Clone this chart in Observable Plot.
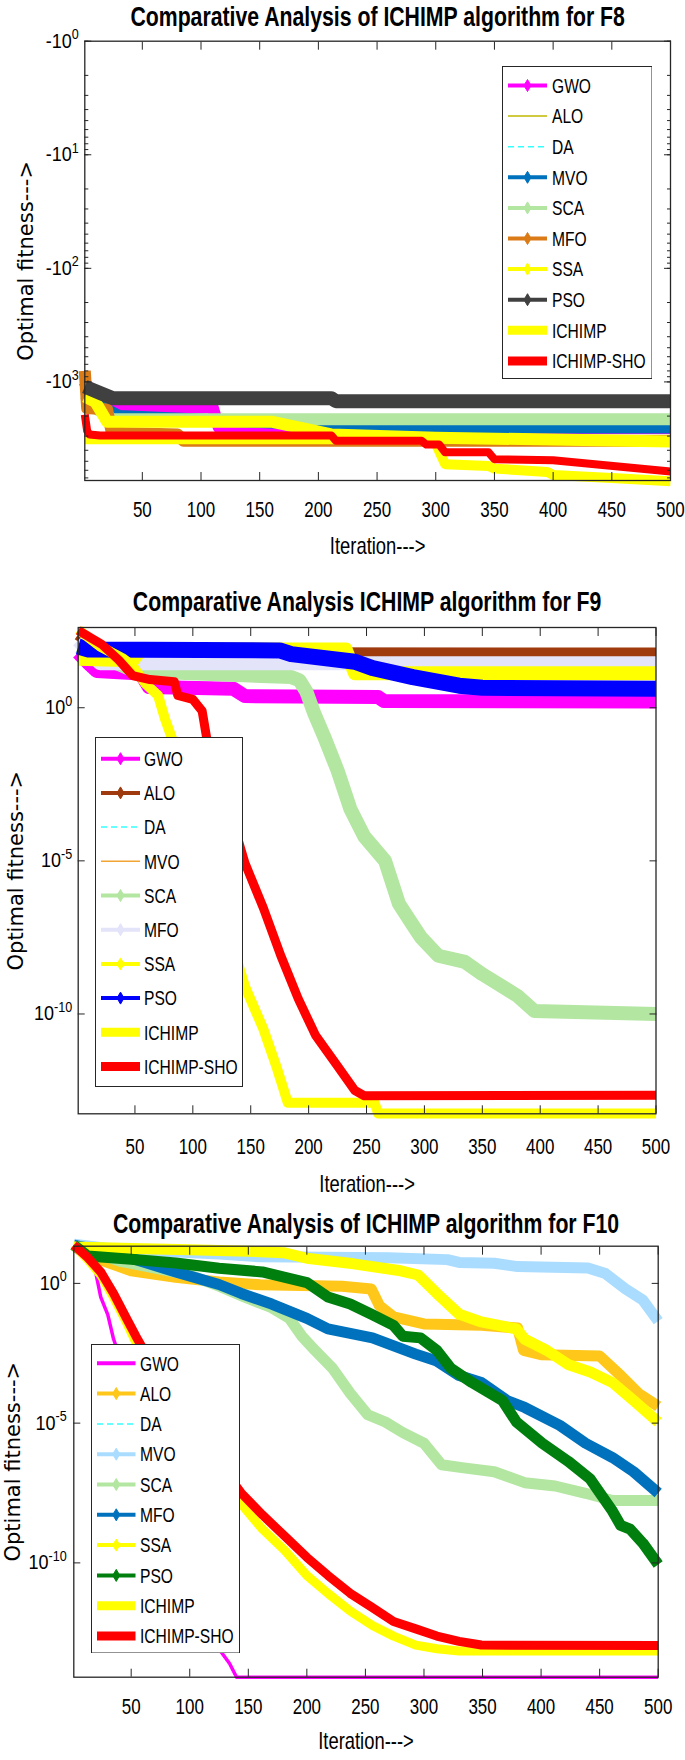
<!DOCTYPE html>
<html><head><meta charset="utf-8">
<script src="https://cdn.jsdelivr.net/npm/d3@7"></script>
<script src="https://cdn.jsdelivr.net/npm/@observablehq/plot@0.6"></script>
<style>
body{margin:0;background:#fff;}
#wrap{position:relative;width:685px;height:1760px;overflow:hidden;background:#fff;}
#wrap > svg{position:absolute;left:0;}
</style></head><body><div id="wrap"></div>
<script>
// ---------- shared ----------
const seriesNames = ["GWO","ALO","DA","MVO","SCA","MFO","SSA","PSO","ICHIMP","ICHIMP-SHO"];
const iterTicks = [50,100,150,200,250,300,350,400,450,500];
const xLabel = "Iteration--->";
const yLabel = "Optimal fitness--->";

// ---------- F8 : [iteration, fitness] (negative values, log magnitude axis) ----------
const f8Title = "Comparative Analysis of ICHIMP algorithm for F8";
const f8YTicks = [-1,-10,-100,-1000];
const f8_GWO  = [[1,-1000],[10,-1400],[25,-1680],[110,-1680],[115,-2500],[215,-2550],[220,-2540],[500,-2540]];
const f8_ALO  = [[1,-1350],[20,-2240],[160,-2240],[211,-2900],[500,-3300]];
const f8_DA   = [[1,-1350],[20,-2240],[160,-2240],[211,-2900],[500,-3300]];
const f8_MVO  = [[1,-1000],[8,-1500],[30,-2000],[210,-2400],[215,-2520],[500,-2520]];
const f8_SCA  = [[1,-1300],[10,-1700],[25,-2130],[500,-2130]];
const f8_MFO  = [[1,-800],[3,-1700],[20,-1750],[24,-2800],[80,-2900],[85,-3300],[500,-3300]];
const f8_SSA  = [[1,-1350],[10,-1500],[20,-2240],[160,-2240],[211,-2900],[300,-3100],[500,-3340]];
const f8_PSO  = [[1,-1100],[14,-1250],[25,-1390],[211,-1390],[215,-1480],[500,-1480]];
const f8_ICHIMP = [[1,-3200],[290,-3200],[300,-3500],[308,-5300],[345,-5500],[350,-5800],[395,-6200],[400,-6600],[450,-7000],[500,-7500]];
const f8_SHO  = [[1,-1940],[3,-2700],[5,-2900],[14,-2960],[211,-2960],[215,-3300],[288,-3300],[292,-3560],[303,-3560],[308,-4170],[345,-4170],[350,-4800],[400,-4900],[500,-6160]];

// ---------- F9 : [iteration, log10(fitness)] ----------
const f9Title = "Comparative Analysis ICHIMP algorithm for F9";
const f9YTicks = [1,1e-5,1e-10];
const f9_GWO  = [[1,1.8],[10,1.45],[17,1.2],[55,1.12],[62,0.68],[135,0.62],[145,0.38],[260,0.35],[265,0.22],[500,0.2]];
const f9_ALO  = [[1,2.4],[20,1.9],[56,1.78],[500,1.77]];
const f9_DA   = [[1,2.0],[55,1.85],[232,1.85],[240,1.15],[500,1.15]];
const f9_MVO  = [[1,2.2],[20,1.45],[500,1.45]];
const f9_SCA  = [[1,2.0],[50,1.2],[185,1.0],[192,0.9],[198,0.53],[205,-0.2],[214,-1.0],[225,-2.05],[236,-3.3],[248,-4.2],[266,-5.0],[278,-6.4],[290,-7.1],[297,-7.5],[312,-8.1],[335,-8.3],[350,-8.7],[380,-9.4],[395,-9.9],[500,-10.0]];
const f9_MFO  = [[1,2.2],[20,1.45],[500,1.45]];
const f9_SSA  = [[1,1.6],[48,1.55],[55,1.9],[232,1.9],[240,1.13],[500,1.13]];
const f9_PSO  = [[1,2.0],[10,1.9],[175,1.87],[185,1.75],[240,1.5],[255,1.3],[290,1.0],[330,0.72],[350,0.65],[500,0.62]];
const f9_ICHIMP = [[1,2.55],[20,2.0],[40,1.6],[48,1.37],[55,1.0],[59,0.79],[70,0.4],[76,-0.37],[82,-1.0],[100,-3.4],[120,-6.0],[145,-9.1],[161,-10.5],[172,-11.7],[182,-12.9],[257,-12.9],[260,-13.25],[500,-13.25]];
const f9_SHO  = [[1,2.53],[21,2.08],[36,1.56],[48,1.05],[63,0.92],[84,0.85],[87,0.4],[100,0.27],[108,-0.1],[112,-1.0],[125,-2.5],[145,-5.07],[161,-6.55],[176,-8.1],[191,-9.5],[206,-10.7],[225,-11.7],[240,-12.5],[248,-12.67],[500,-12.65]];

// ---------- F10 : [iteration, log10(fitness)] ----------
const f10Title = "Comparative Analysis of ICHIMP algorithm for F10";
const f10YTicks = [1,1e-5,1e-10];
const f10_GWO = [[1,1.37],[13,0.92],[19,0.54],[24,-0.49],[30,-1.12],[35,-2.0],[60,-5.0],[90,-8.5],[110,-11.0],[127,-13.2],[134,-13.6],[140,-14.09],[500,-14.09]];
const f10_ALO = [[1,1.37],[20,0.9],[50,0.45],[88,0.22],[125,0.05],[160,-0.05],[230,-0.1],[255,-0.2],[262,-0.8],[274,-1.2],[300,-1.45],[349,-1.5],[380,-1.6],[385,-2.4],[400,-2.55],[450,-2.6],[468,-3.3],[483,-3.93],[500,-4.4]];
const f10_DA  = [[1,1.4],[30,1.25],[125,1.05],[160,0.95],[270,0.92],[320,0.85],[330,0.75],[360,0.72],[380,0.6],[440,0.55],[455,0.35],[472,-0.2],[487,-0.6],[500,-1.35]];
const f10_MVO = [[1,1.4],[30,1.25],[125,1.05],[160,0.95],[270,0.92],[320,0.85],[330,0.75],[360,0.72],[380,0.6],[440,0.55],[455,0.35],[472,-0.2],[487,-0.6],[500,-1.35]];
const f10_SCA = [[1,1.37],[40,0.8],[100,0.3],[125,-0.1],[147,-0.49],[170,-0.87],[185,-1.25],[196,-1.9],[207,-2.4],[222,-3.04],[237,-3.93],[252,-4.7],[267,-4.96],[282,-5.34],[300,-5.72],[315,-6.49],[334,-6.6],[360,-6.74],[386,-7.13],[412,-7.25],[438,-7.51],[461,-7.77],[500,-7.77]];
const f10_MFO = [[1,1.37],[20,1.2],[50,0.9],[88,0.41],[125,-0.04],[144,-0.36],[170,-0.74],[200,-1.25],[218,-1.63],[256,-1.95],[293,-2.53],[311,-2.78],[330,-3.3],[349,-3.55],[371,-4.19],[386,-4.44],[416,-5.08],[438,-5.72],[461,-6.23],[479,-6.74],[500,-7.5]];
const f10_SSA = [[1,1.3],[50,1.25],[100,1.2],[150,1.15],[180,1.1],[200,0.9],[240,0.7],[280,0.45],[295,0.3],[311,-0.36],[330,-1.1],[349,-1.38],[379,-1.63],[386,-2.0],[405,-2.4],[423,-2.9],[442,-3.17],[461,-3.55],[479,-4.19],[500,-4.96]];
const f10_PSO = [[1,1.37],[13,0.98],[50,0.86],[88,0.73],[125,0.54],[162,0.41],[200,0.03],[218,-0.49],[237,-0.74],[256,-1.12],[274,-1.5],[282,-1.89],[297,-1.95],[311,-2.4],[323,-3.04],[341,-3.55],[367,-4.19],[379,-4.96],[401,-5.72],[423,-6.36],[442,-7.0],[461,-8.15],[468,-8.66],[476,-8.79],[487,-9.3],[500,-10.06]];
const f10_ICHIMP = [[1,1.37],[13,0.85],[24,0.3],[35,-0.5],[46,-1.4],[55,-2.2],[80,-4.0],[110,-6.0],[144,-7.9],[162,-8.79],[181,-9.55],[200,-10.45],[218,-11.09],[237,-11.72],[256,-12.24],[274,-12.62],[293,-12.94],[311,-13.07],[330,-13.15],[500,-13.15]];
const f10_SHO = [[1,1.37],[13,0.92],[24,0.41],[35,-0.36],[46,-1.25],[54,-1.89],[80,-3.8],[110,-5.6],[144,-7.5],[162,-8.28],[181,-9.04],[200,-9.8],[218,-10.45],[237,-11.09],[256,-11.6],[274,-12.1],[293,-12.36],[311,-12.62],[330,-12.81],[349,-12.94],[500,-12.96]];

// ---------- styling ----------
const SANS = "'Liberation Sans',Arial,Helvetica,sans-serif";
const WIDE = "'DejaVu Sans',Verdana,sans-serif";
const AX = "#262626";
function mk(color, kind, w) { return {color, kind, w}; }

const panels = [
  {
    top: 0, height: 575, mt: 40.7, mb: 95, ml: 84.3, mr: 15,
    yDomain: [-7380, -1], yTicks: f8YTicks, exp: false, minor: true,
    yFmt: v => "-10|" + Math.round(Math.log10(-v)),
    title: f8Title, titleDy: -24, xTickPad: 21, xlabelDy: 66, ylabelDx: -59, yTickPad: 6,
    data: [f8_GWO,f8_ALO,f8_DA,f8_MVO,f8_SCA,f8_MFO,f8_SSA,f8_PSO,f8_ICHIMP,f8_SHO],
    styles: [mk("#ff00ff","m",12), mk("#c0b800","t",1.5), mk("#33ffff","d",1.5), mk("#0072bd","m",12), mk("#b3e6a1","m",12),
             mk("#db7b17","m",12), mk("#ffff00","m",12), mk("#404040","m",14), mk("#ffff00","b",10), mk("#ff0000","b",8)],
    legend: {x: 501.5, y: 65.7, w: 150.5, h: 313, y0: 19.5, dy: 30.6, sx0: 6, sx1: 45, tx: 50}
  },
  {
    top: 575, height: 635, mt: 52, mb: 96.7, ml: 77.7, mr: 29.5,
    yDomain: [5.5e-14, 417], yTicks: f9YTicks, exp: true, minor: false,
    yFmt: v => "10|" + Math.round(Math.log10(v)),
    title: f9Title, titleDy: -25, xTickPad: 25, xlabelDy: 71, ylabelDx: -62, yTickPad: 6,
    data: [f9_GWO,f9_ALO,f9_DA,f9_MVO,f9_SCA,f9_MFO,f9_SSA,f9_PSO,f9_ICHIMP,f9_SHO],
    styles: [mk("#ff00ff","m",14), mk("#9e3a0d","m",12), mk("#33ffff","d",1.5), mk("#f2a533","t",1.5), mk("#b3e6a1","m",14),
             mk("#e3e3fa","m",14), mk("#ffff00","m",14), mk("#0000ff","m",16), mk("#ffff00","b",10), mk("#ff0000","b",9)],
    legend: {x: 95, y: 737, w: 148, h: 350, y0: 21.7, dy: 34.2, sx0: 6, sx1: 45, tx: 49}
  },
  {
    top: 1210, height: 550, mt: 35.7, mb: 83.3, ml: 73.3, mr: 27.3,
    yDomain: [8.13e-15, 21.4], yTicks: f10YTicks, exp: true, minor: false,
    yFmt: v => "10|" + Math.round(Math.log10(v)),
    title: f10Title, titleDy: -22, xTickPad: 21, xlabelDy: 64, ylabelDx: -61, yTickPad: 7,
    data: [f10_GWO,f10_ALO,f10_DA,f10_MVO,f10_SCA,f10_MFO,f10_SSA,f10_PSO,f10_ICHIMP,f10_SHO],
    styles: [mk("#ff00ff","p",3.5), mk("#ffc71a","m",11), mk("#33ffff","d",1.5), mk("#aadcff","m",11), mk("#b3e6a1","m",11),
             mk("#0072bd","m",11), mk("#ffff00","m",11), mk("#007f0e","m",11), mk("#ffff00","b",9), mk("#ff0000","b",9)],
    legend: {x: 91, y: 1343.5, w: 149, h: 309.5, y0: 19.3, dy: 30.3, sx0: 6, sx1: 44.5, tx: 49}
  }
];

const wrap = document.getElementById("wrap");

// horizontal condensing of a text element about its own anchor point
function squeeze(node, s) {
  const t = d3.select(node);
  const x = +t.attr("x") || 0, y = +t.attr("y") || 0;
  const tr = t.attr("transform") || "";
  t.attr("transform", `${tr} translate(${x},${y}) scale(${s},1) translate(${-x},${-y})`);
}

function drawPanel(cfg) {
  const marks = [];
  cfg.data.forEach((series, k) => {
    const s = cfg.styles[k];
    const opts = {
      x: d => d[0],
      y: d => cfg.exp ? Math.pow(10, d[1]) : d[1],
      stroke: s.color, strokeWidth: s.w, strokeLinejoin: "round", strokeLinecap: "butt"
    };
    if (s.kind === "d") opts.strokeDasharray = "6,4";
    marks.push(Plot.line(series, opts));
  });
  marks.push(Plot.frame({stroke: AX, strokeWidth: 1.3}));
  marks.push(Plot.axisX(iterTicks, {anchor: "bottom", tickSize: 0, tickPadding: cfg.xTickPad, fontSize: 22, fontFamily: SANS, label: null}));
  marks.push(Plot.axisX(iterTicks, {anchor: "bottom", tickSize: -8, tickFormat: () => "", stroke: AX, label: null}));
  marks.push(Plot.axisX(iterTicks, {anchor: "top", tickSize: -8, tickFormat: () => "", stroke: AX, label: null}));
  marks.push(Plot.axisY(cfg.yTicks, {anchor: "left", tickSize: 0, tickPadding: cfg.yTickPad, tickFormat: cfg.yFmt, fontSize: 20, fontFamily: SANS, label: null}));
  marks.push(Plot.axisY(cfg.yTicks, {anchor: "left", tickSize: -7, tickFormat: () => "", stroke: AX, label: null}));
  marks.push(Plot.axisY(cfg.yTicks, {anchor: "right", tickSize: -7, tickFormat: () => "", stroke: AX, label: null}));
  if (cfg.minor) {
    marks.push(Plot.axisY({anchor: "left", ticks: 60, tickSize: -4, tickFormat: () => "", stroke: AX, label: null}));
    marks.push(Plot.axisY({anchor: "right", ticks: 60, tickSize: -4, tickFormat: () => "", stroke: AX, label: null}));
  }
  marks.push(Plot.text([cfg.title], {frameAnchor: "top", dy: cfg.titleDy, text: d => d, lineAnchor: "middle", textAnchor: "middle",
    fontSize: 27, fontWeight: "bold", fontFamily: SANS, fill: "#000"}));
  marks.push(Plot.text([xLabel], {frameAnchor: "bottom", dy: cfg.xlabelDy, text: d => d, lineAnchor: "middle", textAnchor: "middle",
    fontSize: 23, fontFamily: SANS, fill: "#000"}));
  marks.push(Plot.text([yLabel], {frameAnchor: "left", dx: cfg.ylabelDx, rotate: -90, text: d => d, lineAnchor: "middle", textAnchor: "middle",
    fontSize: 21, fontFamily: WIDE, fill: "#000"}));

  const svg = Plot.plot({
    width: 685, height: cfg.height,
    marginTop: cfg.mt, marginBottom: cfg.mb, marginLeft: cfg.ml, marginRight: cfg.mr,
    x: {domain: [1, 500]},
    y: {type: "log", domain: cfg.yDomain},
    style: {background: "transparent", overflow: "visible", color: "#000", fontFamily: SANS},
    marks
  });
  svg.style.top = cfg.top + "px";
  const root = d3.select(svg);
  // superscripts on y tick labels
  root.selectAll('g[aria-label="y-axis tick label"] text').each(function() {
    const t = d3.select(this);
    const parts = t.text().split("|");
    if (parts.length === 2) {
      t.text(parts[0]);
      t.append("tspan").attr("dy", "-0.6em").attr("font-size", "0.7em").text(parts[1]);
      squeeze(this, 0.9);
    }
  });
  root.selectAll('g[aria-label="x-axis tick label"] text').each(function() {
    if (d3.select(this).text() !== "") squeeze(this, 0.77);
  });
  root.selectAll("text").each(function() {
    const s = d3.select(this).text();
    if (s === cfg.title) squeeze(this, 0.787);
    else if (s === xLabel) squeeze(this, 0.8);
  });
  wrap.appendChild(svg);

  // legend box inside the axes, as in the MATLAB figure
  const L = cfg.legend;
  const lg = d3.create("svg").attr("width", L.w).attr("height", L.h)
    .style("position", "absolute").style("left", L.x + "px").style("top", L.y + "px");
  lg.append("rect").attr("x", 0.5).attr("y", 0.5).attr("width", L.w - 1).attr("height", L.h - 1)
    .attr("fill", "#fff").attr("stroke", AX).attr("stroke-width", 1);
  seriesNames.forEach((name, k) => {
    const s = cfg.styles[k];
    const yy = L.y0 + k * L.dy;
    const lw = s.kind === "m" ? 4 : s.kind === "b" ? 9 : s.kind === "p" ? 4 : 1.5;
    lg.append("line").attr("x1", L.sx0).attr("x2", L.sx1).attr("y1", yy).attr("y2", yy)
      .attr("stroke", s.color).attr("stroke-width", lw)
      .attr("stroke-dasharray", s.kind === "d" ? "6,4" : null);
    if (s.kind === "m") {
      const cx = (L.sx0 + L.sx1) / 2;
      lg.append("path").attr("d", `M${cx},${yy-6}L${cx+3.5},${yy}L${cx},${yy+6}L${cx-3.5},${yy}Z`)
        .attr("fill", s.color).attr("stroke", s.color).attr("stroke-width", 1);
    }
    lg.append("text").attr("transform", `translate(${L.tx},${yy}) scale(0.78,1)`).attr("dy", "0.36em")
      .attr("font-family", SANS).attr("font-size", 20).attr("fill", "#000").text(name);
  });
  wrap.appendChild(lg.node());
}

panels.forEach(drawPanel);
</script>
</body></html>
